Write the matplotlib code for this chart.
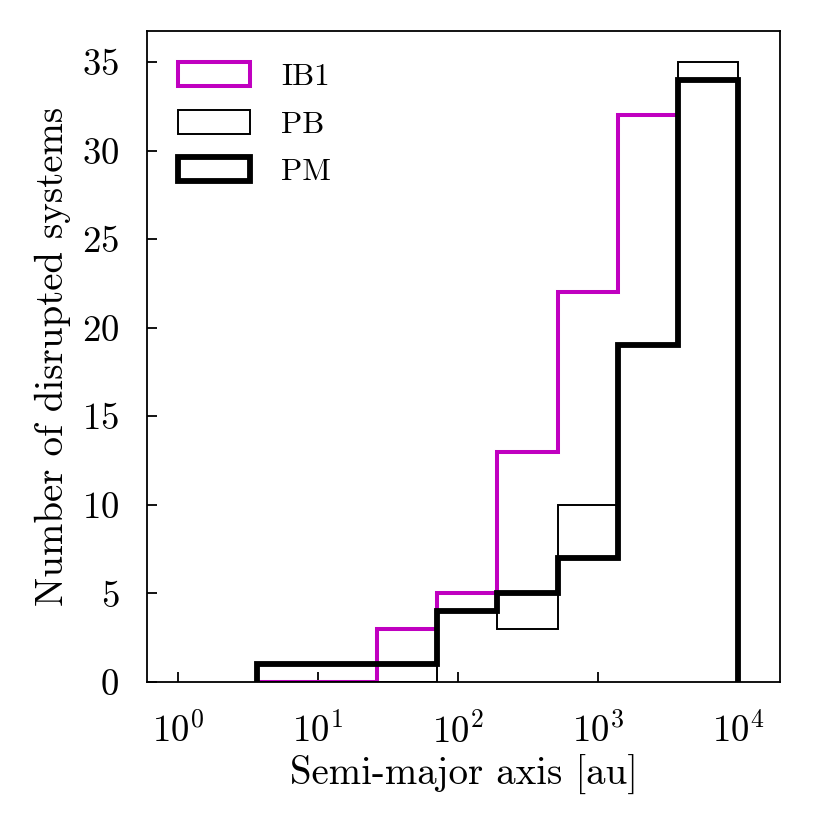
import numpy as np
import matplotlib
matplotlib.use("Agg")
import matplotlib.pyplot as plt
from matplotlib.ticker import NullLocator, LogLocator

plt.rcParams['font.family'] = 'serif'
plt.rcParams['font.serif'] = ['cmr10']
plt.rcParams['mathtext.fontset'] = 'cm'
plt.rcParams['axes.formatter.use_mathtext'] = True
plt.rcParams['axes.unicode_minus'] = False

# bin edges in log10(au)
log_edges = np.linspace(0.565, 4.0, 9)
labels = ["IB1", "PB", "PM"]
counts_IB1 = [0, 0, 3, 5, 13, 22, 32, 34]
counts_PB = [0, 0, 0, 4, 3, 10, 19, 35]
counts_PM = [1, 1, 1, 4, 5, 7, 19, 34]
colors = ["#c000c0", "black", "black"]
widths = [2.9, 1.4, 4.2]

edges = 10 ** log_edges
centers = np.sqrt(edges[:-1] * edges[1:])

fig = plt.figure(figsize=(8.3, 8.3), dpi=100)
ax = fig.add_axes([147/830, 1 - 682/830, (780-147)/830, (682-31)/830])

for lab, cnt, c, lw in zip(labels, [counts_IB1, counts_PB, counts_PM], colors, widths):
    ax.hist(centers, bins=edges, weights=cnt, histtype='step', color=c, lw=lw, label=lab)

ax.set_xscale('log')
ax.set_xlim(0.6, 2e4)
ax.set_ylim(0, 36.75)
ax.xaxis.set_major_locator(LogLocator(base=10, numticks=10))
ax.xaxis.set_minor_locator(NullLocator())
ax.set_yticks([0, 5, 10, 15, 20, 25, 30, 35])
ax.tick_params(direction='in', length=7.5, width=1.3, labelsize=26.5)
ax.tick_params(axis='x', pad=22)
ax.tick_params(axis='y', pad=20)
for s in ax.spines.values():
    s.set_linewidth(1.3)

ax.set_xlabel("Semi-major axis [au]", fontsize=28, labelpad=4)
ax.set_ylabel("Number of disrupted systems", fontsize=28, labelpad=8)

ax.legend(loc='upper left', frameon=False, fontsize=22.5, handlelength=2.3,
          handleheight=0.8, labelspacing=0.6, handletextpad=1.0,
          borderaxespad=0.6)

fig.savefig("out.png", dpi=100)
